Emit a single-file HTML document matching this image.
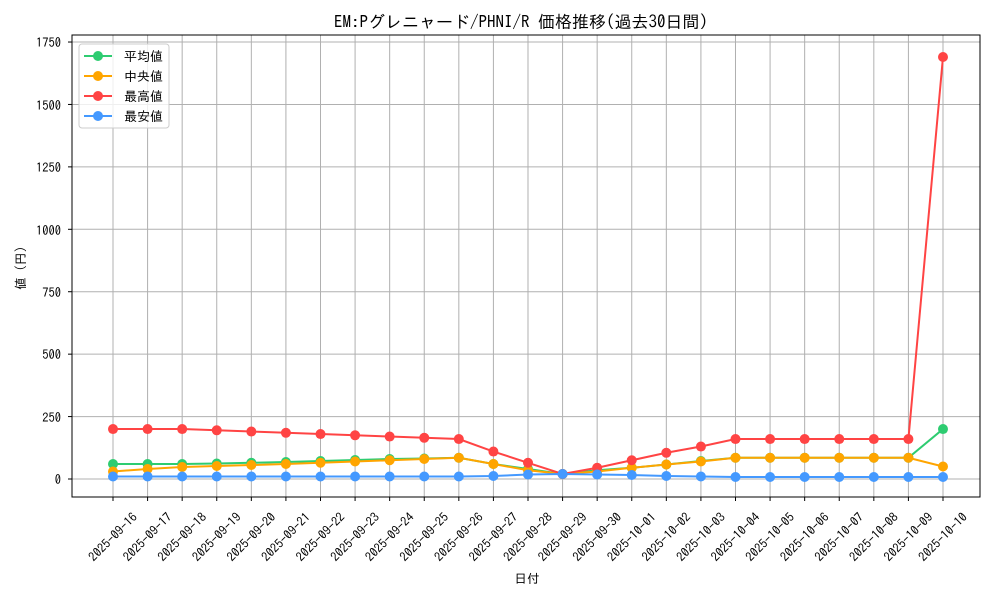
<!DOCTYPE html>
<html><head><meta charset="utf-8"><style>
body{margin:0;background:#fff}
svg text{font-family:"IPAGothic","Noto Sans CJK JP",monospace;font-size:12.5px;fill:#000}
</style></head><body>
<svg id="s" width="1000" height="600" xmlns="http://www.w3.org/2000/svg">
<rect width="1000" height="600" fill="#fff"/>
<g id="grid" stroke="#b0b0b0" stroke-width="1"></g>
<g id="data"></g>
<rect x="72" y="35" width="908" height="462" fill="none" stroke="#000" stroke-width="1"/>
<text x="521" y="28" text-anchor="middle" style="font-size:17px">EM:Pグレニャード/PHNI/R 価格推移(過去30日間)</text>
<text x="61" y="484" text-anchor="end">0</text>
<text x="61" y="422" text-anchor="end">250</text>
<text x="61" y="359" text-anchor="end">500</text>
<text x="61" y="297" text-anchor="end">750</text>
<text x="61" y="235" text-anchor="end">1000</text>
<text x="61" y="172" text-anchor="end">1250</text>
<text x="61" y="110" text-anchor="end">1500</text>
<text x="61" y="47" text-anchor="end">1750</text>
<text transform="translate(25,268) rotate(-90)" text-anchor="middle">値 (円)</text>
<text x="527" y="583" text-anchor="middle">日付</text>
<g id="xl">
<text>2025-09-16</text><text>2025-09-17</text><text>2025-09-18</text><text>2025-09-19</text><text>2025-09-20</text><text>2025-09-21</text><text>2025-09-22</text><text>2025-09-23</text><text>2025-09-24</text><text>2025-09-25</text><text>2025-09-26</text><text>2025-09-27</text><text>2025-09-28</text><text>2025-09-29</text><text>2025-09-30</text><text>2025-10-01</text><text>2025-10-02</text><text>2025-10-03</text><text>2025-10-04</text><text>2025-10-05</text><text>2025-10-06</text><text>2025-10-07</text><text>2025-10-08</text><text>2025-10-09</text><text>2025-10-10</text>
</g>
<g style="font-size:13px">
<rect x="79" y="44" width="90" height="84" fill="#fff" fill-opacity="0.8" stroke="#ccc" rx="3"/>
<line x1="84" y1="56" x2="112" y2="56" stroke="#2ecc71" stroke-width="2"/><circle cx="98" cy="56" r="5" fill="#2ecc71"/><text x="124" y="61" style="font-size:13px">平均値</text>
<line x1="84" y1="76" x2="112" y2="76" stroke="#ffa500" stroke-width="2"/><circle cx="98" cy="76" r="5" fill="#ffa500"/><text x="124" y="81" style="font-size:13px">中央値</text>
<line x1="84" y1="96" x2="112" y2="96" stroke="#ff4444" stroke-width="2"/><circle cx="98" cy="96" r="5" fill="#ff4444"/><text x="124" y="101" style="font-size:13px">最高値</text>
<line x1="84" y1="116" x2="112" y2="116" stroke="#4499ff" stroke-width="2"/><circle cx="98" cy="116" r="5" fill="#4499ff"/><text x="124" y="121" style="font-size:13px">最安値</text>
</g>
</svg>
<script>
const X=i=>113+i*34.583, Y=v=>479-v*0.2497;
const g=document.getElementById('grid');let h='';
for(let i=0;i<25;i++){h+=`<line x1="${X(i)}" y1="35" x2="${X(i)}" y2="497"/><line x1="${X(i)}" y1="497" x2="${X(i)}" y2="501" stroke="#000"/>`;}
for(let v=0;v<=1750;v+=250){h+=`<line x1="72" y1="${Y(v)}" x2="980" y2="${Y(v)}"/><line x1="68" y1="${Y(v)}" x2="72" y2="${Y(v)}" stroke="#000"/>`;}
g.innerHTML=h;
document.querySelectorAll('#xl text').forEach((t,i)=>{t.setAttribute('text-anchor','middle');t.setAttribute('transform',`translate(${X(i)+3},540) rotate(-45)`);});
const S=[
['#2ecc71',[60,60,60,62,65,68,72,76,80,82,85,60,40,20,35,45,58,72,85,85,85,85,85,85,200]],
['#ffa500',[30,40,48,52,56,60,65,70,75,80,85,60,35,20,30,45,58,70,85,85,85,85,85,85,50]],
['#ff4444',[200,200,200,195,190,185,180,175,170,165,160,110,65,20,45,75,105,130,160,160,160,160,160,160,1690]],
['#4499ff',[10,10,10,10,10,10,10,10,10,10,10,12,18,20,18,16,12,10,8,8,8,8,8,8,8]]];
let d='';
S.forEach(([c,a])=>{d+=`<polyline fill="none" stroke="${c}" stroke-width="2" points="${a.map((v,i)=>X(i)+','+Y(v)).join(' ')}"/>`;
a.forEach((v,i)=>d+=`<circle cx="${X(i)}" cy="${Y(v)}" r="5" fill="${c}"/>`);});
document.getElementById('data').innerHTML=d;
</script>
</body></html>
